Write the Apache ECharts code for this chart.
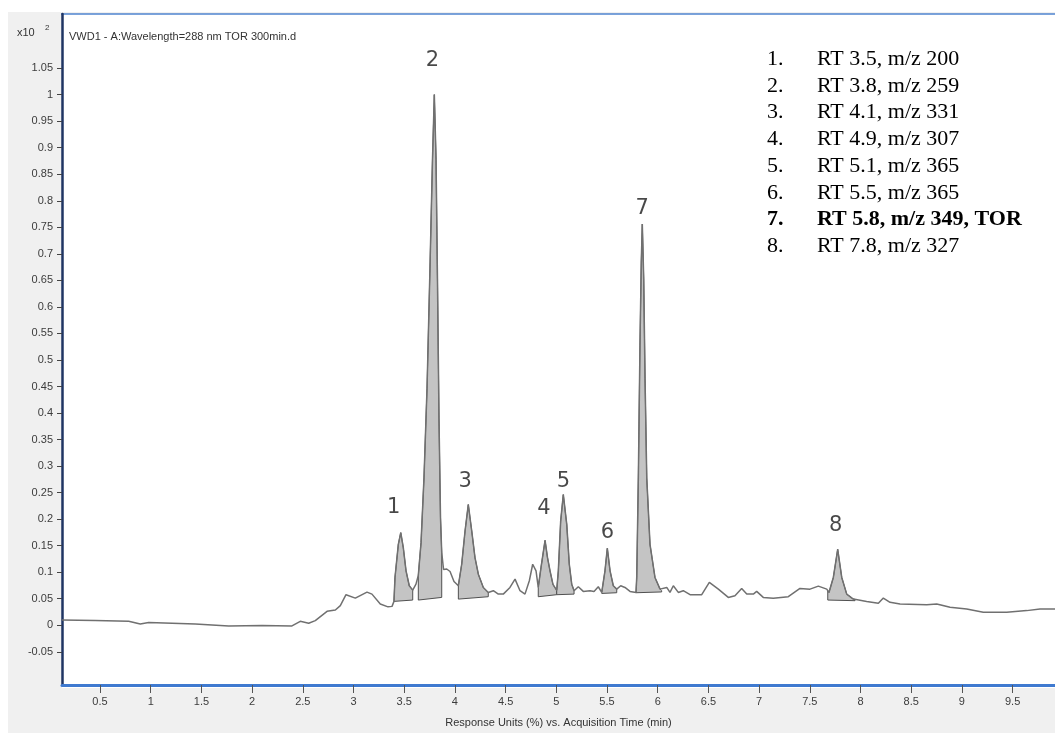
<!DOCTYPE html>
<html><head><meta charset="utf-8">
<script src="https://cdn.jsdelivr.net/npm/echarts@6/dist/echarts.min.js"></script>
<style>html,body{margin:0;padding:0;background:#fff}#c{width:1055px;height:733px}</style>
</head><body><div id="c"></div>
<script>
// ---- data (time in min, response in x10^2 units) ----
const times = [0.125,0.451,0.783,0.897,0.980,1.440,1.769,2.098,2.393,2.475,2.558,2.623,2.739,2.821,2.870,2.926,3.018,3.133,3.182,3.264,3.340,3.380,3.399,3.409,3.442,3.466,3.491,3.518,3.550,3.584,3.616,3.639,3.666,3.695,3.725,3.754,3.779,3.797,3.814,3.828,3.843,3.858,3.870,3.888,3.919,3.952,3.991,4.034,4.067,4.100,4.132,4.166,4.198,4.231,4.280,4.329,4.379,4.428,4.477,4.543,4.593,4.642,4.691,4.734,4.767,4.800,4.822,4.849,4.889,4.913,4.938,4.967,5.004,5.020,5.043,5.069,5.103,5.128,5.152,5.175,5.217,5.266,5.332,5.372,5.414,5.448,5.480,5.503,5.530,5.562,5.596,5.635,5.677,5.727,5.786,5.793,5.809,5.825,5.838,5.848,5.862,5.875,5.892,5.924,5.973,6.023,6.039,6.089,6.121,6.154,6.203,6.252,6.319,6.434,6.509,6.598,6.696,6.762,6.828,6.878,6.943,6.976,7.041,7.140,7.288,7.403,7.502,7.584,7.667,7.689,7.732,7.775,7.815,7.864,7.929,8.061,8.176,8.225,8.291,8.390,8.653,8.752,8.883,9.047,9.211,9.442,9.639,9.770,9.918];
const signal = [0.0099,0.0088,0.0075,0.0024,0.0051,0.0024,-0.0013,-0.0006,-0.0013,0.0075,0.0038,0.0088,0.0263,0.0287,0.0370,0.0576,0.0512,0.0625,0.0587,0.0400,0.0347,0.0356,0.0450,0.0901,0.1525,0.1745,0.1463,0.1026,0.0745,0.0662,0.0775,0.0938,0.1557,0.2777,0.4465,0.6717,0.8780,1.0000,0.8780,0.6529,0.3902,0.2026,0.1370,0.1051,0.1060,0.1013,0.0826,0.0745,0.1150,0.1777,0.2276,0.1777,0.1276,0.0962,0.0713,0.0619,0.0651,0.0587,0.0587,0.0713,0.0869,0.0651,0.0587,0.0839,0.1150,0.1026,0.0713,0.1088,0.1600,0.1276,0.1026,0.0769,0.0657,0.1026,0.1964,0.2463,0.1901,0.1150,0.0775,0.0651,0.0726,0.0638,0.0651,0.0638,0.0726,0.0619,0.1026,0.1450,0.1026,0.0745,0.0681,0.0745,0.0713,0.0638,0.0619,0.0901,0.2777,0.5278,0.6848,0.7561,0.6529,0.4653,0.2777,0.1525,0.0901,0.0681,0.0651,0.0713,0.0619,0.0745,0.0619,0.0651,0.0576,0.0576,0.0807,0.0681,0.0525,0.0557,0.0694,0.0587,0.0587,0.0638,0.0525,0.0507,0.0538,0.0694,0.0681,0.0737,0.0681,0.0619,0.0901,0.1432,0.0901,0.0587,0.0493,0.0450,0.0413,0.0512,0.0432,0.0400,0.0388,0.0400,0.0338,0.0306,0.0244,0.0244,0.0276,0.0306,0.0306];

const peakNames = ['1','2','3','4','5','6','7','8'];
const peakStart = [3.399,3.639,4.034,4.822,5.004,5.448,5.786,7.677];
const peakEnd   = [3.584,3.870,4.329,5.004,5.175,5.596,6.039,7.946];
const baseStart = [0.0450,0.0475,0.0493,0.0538,0.0576,0.0600,0.0613,0.0475];
const baseEnd   = [0.0475,0.0525,0.0538,0.0576,0.0587,0.0613,0.0628,0.0463];

const xTicks = [0.5,1,1.5,2,2.5,3,3.5,4,4.5,5,5.5,6,6.5,7,7.5,8,8.5,9,9.5];
const yTicks = [-0.05,0,0.05,0.1,0.15,0.2,0.25,0.3,0.35,0.4,0.45,0.5,0.55,0.6,0.65,0.7,0.75,0.8,0.85,0.9,0.95,1,1.05];

const legendNums  = ['1.','2.','3.','4.','5.','6.','7.','8.'];
const legendTexts = ['RT 3.5, m/z 200','RT 3.8, m/z 259','RT 4.1, m/z 331','RT 4.9, m/z 307','RT 5.1, m/z 365','RT 5.5, m/z 365','RT 5.8, m/z 349, TOR','RT 7.8, m/z 327'];
const legendBold  = [false,false,false,false,false,false,true,false];

const titleText = 'VWD1 - A:Wavelength=288 nm TOR 300min.d';
const xAxisTitle = 'Response Units (%) vs. Acquisition Time (min)';
const yScaleText = 'x10';
const yScaleExp = '2';

// ---- helpers ----
function curveAt(t){
  for (let j=0;j<times.length-1;j++){
    if (t>=times[j] && t<=times[j+1]){
      const f=(t-times[j])/(times[j+1]-times[j]);
      return signal[j]+f*(signal[j+1]-signal[j]);
    }
  }
  return signal[signal.length-1];
}
function apexOf(i){
  let bt=peakStart[i], bv=-1;
  for (let j=0;j<times.length;j++){
    if (times[j]>=peakStart[i] && times[j]<=peakEnd[i] && signal[j]>bv){bv=signal[j];bt=times[j];}
  }
  return [bt,bv];
}
const fmt = v => String(+(+v).toFixed(2));

const labelOffsets = [[-7,-25],[-2,-34],[-3,-23],[-1,-32],[0,-13],[0,-16],[0,-16],[-2,-24]];
const legendTop = 59, legendStep = 26.8;

const chart = echarts.init(document.getElementById('c'), null, {renderer:'canvas'});

const graphics = [
  {type:'rect', z:-100, shape:{x:8,y:12,width:1047,height:721}, style:{fill:'#f0f0f0'}, silent:true},
  {type:'rect', z:-99, shape:{x:62,y:14,width:993,height:674}, style:{fill:'#ffffff'}, silent:true},
  {type:'line', z:-98, shape:{x1:61,y1:14,x2:1055,y2:14}, style:{stroke:'#4f84cf',lineWidth:1.5}, silent:true},
  {type:'text', left:17, top:27, style:{text:yScaleText, fontSize:11, fontFamily:'Liberation Sans', fill:'#333'}},
  {type:'text', left:45, top:24, style:{text:yScaleExp, fontSize:8, fontFamily:'Liberation Sans', fill:'#333'}}
];
legendNums.forEach((n,i)=>{
  const y = legendTop + legendStep*i;
  graphics.push({type:'text', x:767, y:y, style:{text:n, fontSize:22, fontFamily:'Liberation Serif', fontWeight: legendBold[i]?'bold':'normal', fill:'#000', verticalAlign:'middle', align:'left'}});
  graphics.push({type:'text', x:817, y:y, style:{text:legendTexts[i], fontSize:22, fontFamily:'Liberation Serif', fontWeight: legendBold[i]?'bold':'normal', fill:'#000', verticalAlign:'middle', align:'left'}});
});

const option = {
  animation:false,
  backgroundColor:'#ffffff',
  title:{text:titleText, left:64, top:26, textStyle:{fontSize:11, fontWeight:'normal', fontFamily:'Liberation Sans', color:'#333'}},
  grid:{left:62, top:14, width:993, height:674, show:false},
  xAxis:{
    type:'value', min:0.1252, max:9.918,
    name:xAxisTitle, nameLocation:'middle', nameGap:32,
    nameTextStyle:{fontSize:11, fontFamily:'Liberation Sans', color:'#333'},
    axisLine:{show:true, onZero:false, lineStyle:{color:'#3f7ad0', width:3}},
    axisTick:{show:true, length:8, customValues:xTicks, lineStyle:{color:'#555'}},
    axisLabel:{show:true, customValues:xTicks, formatter:fmt, margin:11, fontSize:11, fontFamily:'Liberation Sans', color:'#3c3c3c'},
    splitLine:{show:false}
  },
  yAxis:{
    type:'value', min:-0.11257, max:1.15197,
    axisLine:{show:true, onZero:false, lineStyle:{color:'#1f3563', width:2.5}},
    axisTick:{show:true, length:5, customValues:yTicks, lineStyle:{color:'#444'}},
    axisLabel:{show:true, customValues:yTicks, formatter:fmt, margin:9, fontSize:11, fontFamily:'Liberation Sans', color:'#3c3c3c'},
    splitLine:{show:false}
  },
  graphic:graphics,
  series:[
    {
      type:'custom', z:2, clip:true,
      encode:{x:0, y:1},
      data: peakStart.map((s,i)=>[s, baseStart[i], i]),
      renderItem:(params, api)=>{
        const i = api.value(2);
        const s = peakStart[i], e = peakEnd[i];
        const pts = [api.coord([s, baseStart[i]]), api.coord([s, curveAt(s)])];
        for (let j=0;j<times.length;j++){ if (times[j]>s && times[j]<e) pts.push(api.coord([times[j], signal[j]])); }
        pts.push(api.coord([e, curveAt(e)]));
        pts.push(api.coord([e, baseEnd[i]]));
        return {type:'polygon', shape:{points:pts}, style:{fill:'#c4c4c4', stroke:'#505050', lineWidth:1}};
      }
    },
    {
      type:'line', z:3, showSymbol:false, symbol:'none',
      data: times.map((t,i)=>[t, signal[i]]),
      lineStyle:{color:'#707070', width:1.5},
      silent:true
    },
    {
      type:'scatter', z:4, symbolSize:1, itemStyle:{color:'rgba(0,0,0,0)'},
      data: peakNames.map((n,i)=>({name:n, value:apexOf(i), label:{offset:labelOffsets[i]}})),
      label:{show:true, position:'inside', formatter:p=>p.name, fontSize:21, fontFamily:'DejaVu Sans', color:'#1a1a1a'},
      silent:true
    }
  ]
};
chart.setOption(option);
</script>
</body></html>
